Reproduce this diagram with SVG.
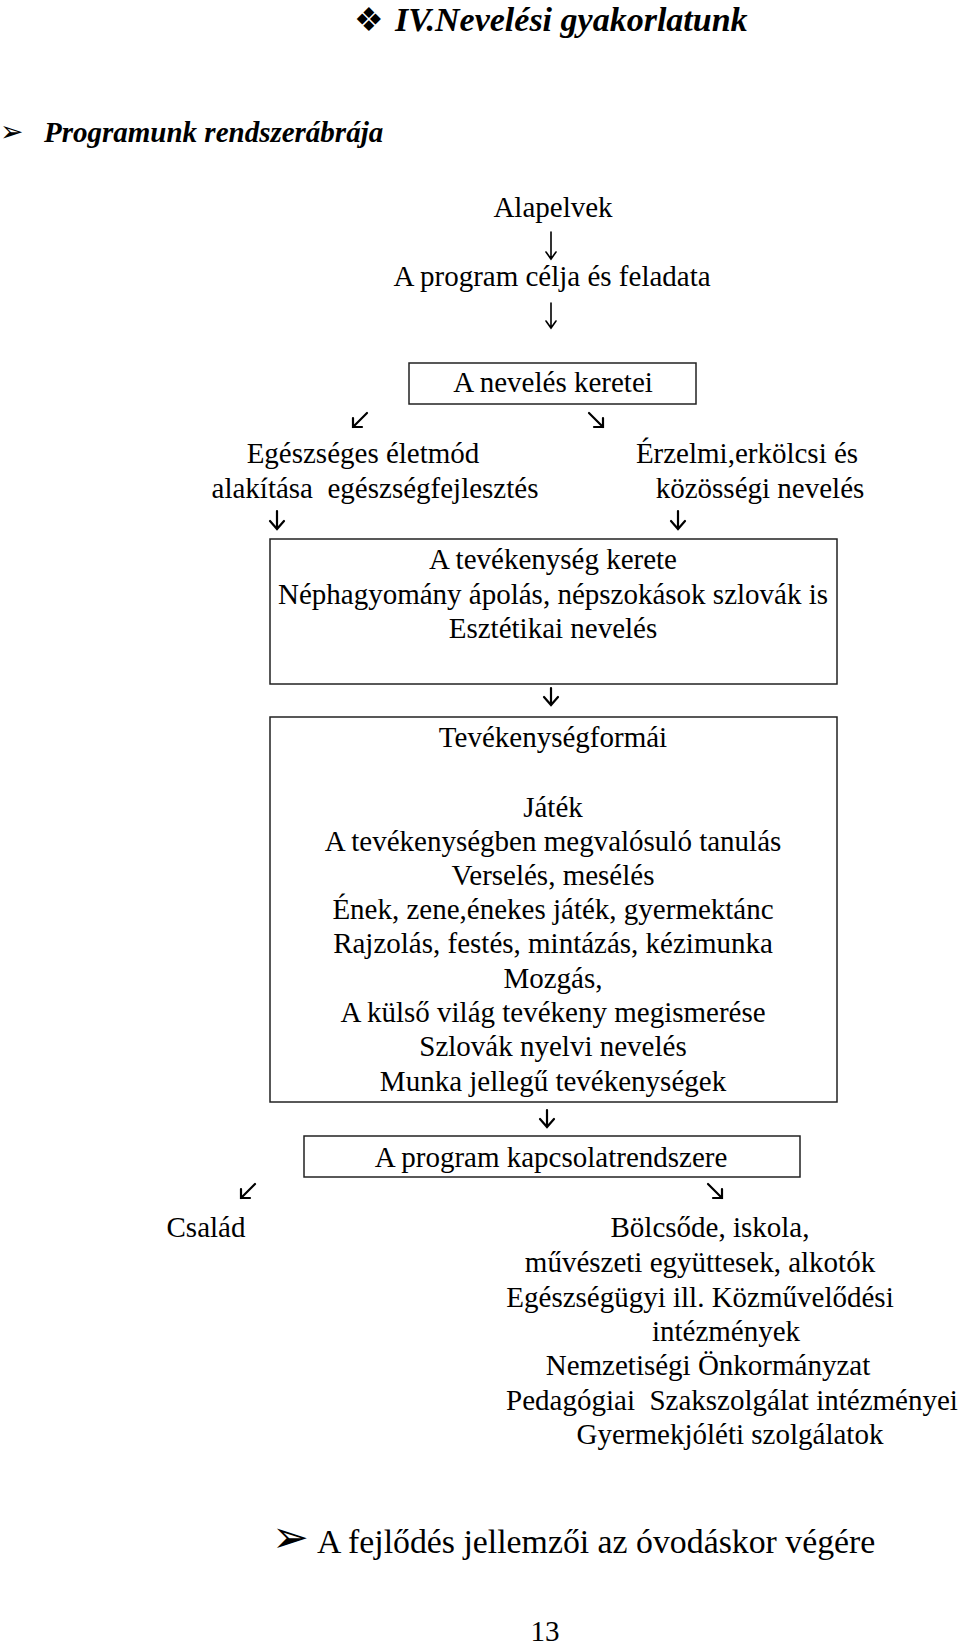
<svg xmlns="http://www.w3.org/2000/svg" width="960" height="1648" viewBox="0 0 960 1648">
<style>
.t{font-family:"Liberation Serif","Times New Roman",serif;font-size:29px;fill:#000;text-anchor:middle}
.h{font-family:"Liberation Serif","Times New Roman",serif;font-weight:bold;font-style:italic;fill:#000}
.sym{font-family:"DejaVu Sans",sans-serif;fill:#000}
.box{fill:#fff;stroke:#222;stroke-width:1.5}
.a{fill:none;stroke:#000;stroke-width:1.6;stroke-linecap:round;stroke-linejoin:miter}
.b{fill:none;stroke:#000;stroke-width:2.2;stroke-linecap:round;stroke-linejoin:miter}
</style>
<rect width="960" height="1648" fill="#fff"/>
<g id="title">
<text class="sym" x="354" y="31" font-size="33">❖</text>
<text class="h" x="395" y="31" font-size="34">IV.Nevelési gyakorlatunk</text>
</g>
<g id="subtitle">
<text class="sym" x="0" y="141" font-size="28">➢</text>
<text class="h" x="44" y="142" font-size="29">Programunk rendszerábrája</text>
</g>
<g id="alapelvek"><text class="t" x="553" y="217">Alapelvek</text></g>
<g id="cel"><text class="t" x="552" y="286">A program célja és feladata</text></g>
<g id="keretei">
<rect class="box" x="409" y="363" width="287" height="41"/>
<text class="t" x="553" y="392">A nevelés keretei</text>
</g>
<g id="egeszseg">
<text class="t" x="363" y="463">Egészséges életmód</text>
<text class="t" x="375" y="498" xml:space="preserve">alakítása  egészségfejlesztés</text>
</g>
<g id="erzelmi">
<text class="t" x="747" y="463">Érzelmi,erkölcsi és</text>
<text class="t" x="760" y="498">közösségi nevelés</text>
</g>
<g id="tevekenyseg-kerete">
<rect class="box" x="270" y="539" width="567" height="145"/>
<text class="t" x="553" y="569">A tevékenység kerete</text>
<text class="t" x="553" y="604">Néphagyomány ápolás, népszokások szlovák is</text>
<text class="t" x="553" y="638">Esztétikai nevelés</text>
</g>
<g id="tevekenysegformai">
<rect class="box" x="270" y="717" width="567" height="385"/>
<text class="t" x="553" y="747">Tevékenységformái</text>
<text class="t" x="553" y="817">Játék</text>
<text class="t" x="553" y="851">A tevékenységben megvalósuló tanulás</text>
<text class="t" x="553" y="885">Verselés, mesélés</text>
<text class="t" x="553" y="919">Ének, zene,énekes játék, gyermektánc</text>
<text class="t" x="553" y="953">Rajzolás, festés, mintázás, kézimunka</text>
<text class="t" x="553" y="988">Mozgás,</text>
<text class="t" x="553" y="1022">A külső világ tevékeny megismerése</text>
<text class="t" x="553" y="1056">Szlovák nyelvi nevelés</text>
<text class="t" x="553" y="1091">Munka jellegű tevékenységek</text>
</g>
<g id="kapcsolatrendszer">
<rect class="box" x="304" y="1136" width="496" height="41"/>
<text class="t" x="551" y="1167">A program kapcsolatrendszere</text>
</g>
<g id="csalad"><text class="t" x="206" y="1237">Család</text></g>
<g id="intezmenyek">
<text class="t" x="710" y="1237">Bölcsőde, iskola,</text>
<text class="t" x="700" y="1272">művészeti együttesek, alkotók</text>
<text class="t" x="700" y="1307">Egészségügyi ill. Közművelődési</text>
<text class="t" x="726" y="1341">intézmények</text>
<text class="t" x="708" y="1375">Nemzetiségi Önkormányzat</text>
<text class="t" x="732" y="1410" xml:space="preserve">Pedagógiai  Szakszolgálat intézményei</text>
<text class="t" x="730" y="1444">Gyermekjóléti szolgálatok</text>
</g>
<g id="fejlodes">
<text class="sym" x="272" y="1552" font-size="44">➢</text>
<text x="317" y="1553" font-family="Liberation Serif, Times New Roman, serif" font-size="33.8">A fejlődés jellemzői az óvodáskor végére</text>
</g>
<g id="page"><text class="t" x="545" y="1641" font-size="22">13</text></g>
<g id="connectors">
<path class="a" d="M551 232 L551 259 M546 252 L551 259 L556 252"/>
<path class="a" d="M551 303 L551 328 M546 321 L551 328 L556 321"/>
<path class="b" d="M367 413 L353 427 M353 418 L353 427 L362 427"/>
<path class="b" d="M589 413 L603 427 M603 418 L603 427 L594 427"/>
<path class="b" d="M277 511 L277 529 M270 521 L277 529 L284 521"/>
<path class="b" d="M678 511 L678 529 M671 521 L678 529 L685 521"/>
<path class="b" d="M551 688 L551 705 M544 697 L551 705 L558 697"/>
<path class="b" d="M547 1110 L547 1127 M540 1119 L547 1127 L554 1119"/>
<path class="b" d="M255 1184 L241 1198 M241 1189 L241 1198 L250 1198"/>
<path class="b" d="M708 1184 L722 1198 M722 1189 L722 1198 L713 1198"/>
</g>
</svg>
